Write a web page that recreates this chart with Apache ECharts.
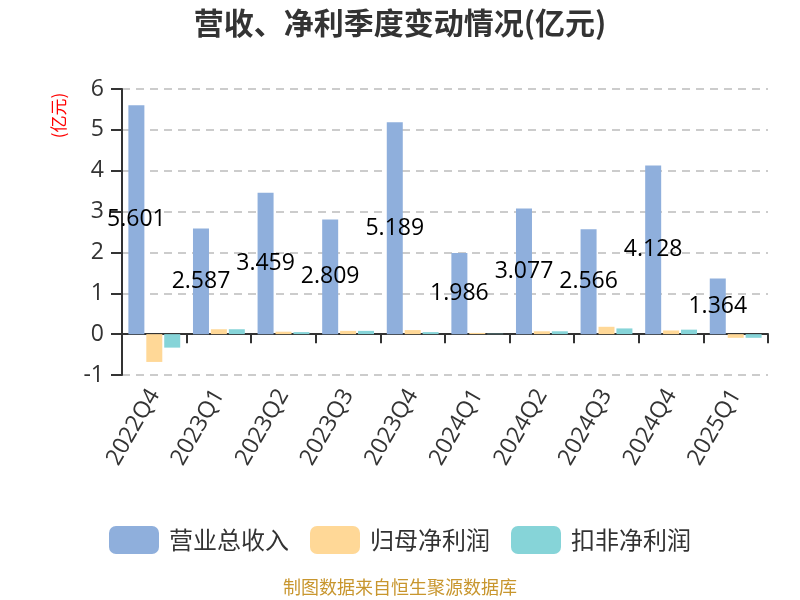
<!DOCTYPE html>
<html>
<head>
<meta charset="utf-8">
<script src="https://cdn.jsdelivr.net/npm/echarts@6/dist/echarts.min.js"></script>
<style>
    html, body { margin: 0; padding: 0; background: #fff; }
    #chart { width: 800px; height: 600px; }
</style>
</head>
<body>
<div id="chart"></div>
<script>
// 季度
const quarters = ['2022Q4', '2023Q1', '2023Q2', '2023Q3', '2023Q4', '2024Q1', '2024Q2', '2024Q3', '2024Q4', '2025Q1']
// 营业总收入（亿元）
const revenue = [5.601, 2.587, 3.459, 2.809, 5.189, 1.986, 3.077, 2.566, 4.128, 1.364]
// 归母净利润（亿元）
const netProfit = [-0.68, 0.12, 0.06, 0.08, 0.1, 0.03, 0.07, 0.18, 0.09, -0.09]
// 扣非净利润（亿元）
const deductedProfit = [-0.33, 0.12, 0.05, 0.08, 0.05, 0.01, 0.07, 0.14, 0.11, -0.09]
// y轴刻度 min / max / interval
const yTicks = [-1, 6, 1]

const font = '"Open Sans", "Noto Sans CJK SC", sans-serif'
const cjkFont = '"Noto Sans CJK SC", sans-serif'
const myChart = echarts.init(document.getElementById('chart'))

const options = {
    textStyle: { fontFamily: font },
    title: [{
        text: '营收、净利季度变动情况(亿元)',
        left: 'center',
        top: 3,
        textStyle: { fontSize: 30, fontWeight: 'bold', color: '#333', fontFamily: cjkFont }
    }, {
        text: '制图数据来自恒生聚源数据库',
        left: 'center',
        top: 573,
        textStyle: { fontSize: 18, fontWeight: 'normal', color: '#c8962e', fontFamily: cjkFont }
    }],
    legend: {
        top: 521,
        left: 'center',
        itemWidth: 50,
        itemHeight: 28,
        itemGap: 21,
        icon: 'roundRect',
        textStyle: { fontSize: 24, color: '#333', fontFamily: cjkFont, padding: [0, 0, 0, 5] },
        data: ['营业总收入', '归母净利润', '扣非净利润']
    },
    grid: {
        left: 122,
        right: 32,
        top: 89,
        bottom: 225
    },
    xAxis: {
        type: 'category',
        data: quarters,
        axisLine: { onZero: true, lineStyle: { color: '#333', width: 2 } },
        axisTick: { show: true, length: 9, lineStyle: { color: '#333', width: 2 } },
        axisLabel: { rotate: 60, fontSize: 23, color: '#333', margin: 16, fontFamily: font }
    },
    yAxis: {
        type: 'value',
        min: yTicks[0],
        max: yTicks[1],
        interval: yTicks[2],
        name: '(亿元)',
        nameLocation: 'middle',
        nameGap: 55,
        nameTextStyle: { color: 'red', fontSize: 17, padding: [0, 0, 0, 233], fontFamily: cjkFont },
        axisLine: { show: true, lineStyle: { color: '#333', width: 2 } },
        axisTick: { show: true, length: 11, lineStyle: { color: '#333', width: 2 } },
        axisLabel: { fontSize: 23, color: '#333', margin: 18, fontFamily: font },
        splitLine: { lineStyle: { type: [8, 6], color: '#ccc', width: 2 } }
    },
    series: [{
        name: '营业总收入',
        type: 'bar',
        barWidth: 16,
        barGap: '12%',
        itemStyle: { color: '#8fafdc' },
        label: {
            show: true,
            position: 'inside',
            color: '#000',
            fontSize: 23,
            fontFamily: font,
            formatter: p => p.value.toFixed(3)
        },
        data: revenue
    }, {
        name: '归母净利润',
        type: 'bar',
        barWidth: 16,
        barGap: '12%',
        itemStyle: { color: '#ffd897' },
        data: netProfit
    }, {
        name: '扣非净利润',
        type: 'bar',
        barWidth: 16,
        barGap: '12%',
        itemStyle: { color: '#86d4d8' },
        data: deductedProfit
    }]
}
myChart.setOption(options)
</script>
</body>
</html>
